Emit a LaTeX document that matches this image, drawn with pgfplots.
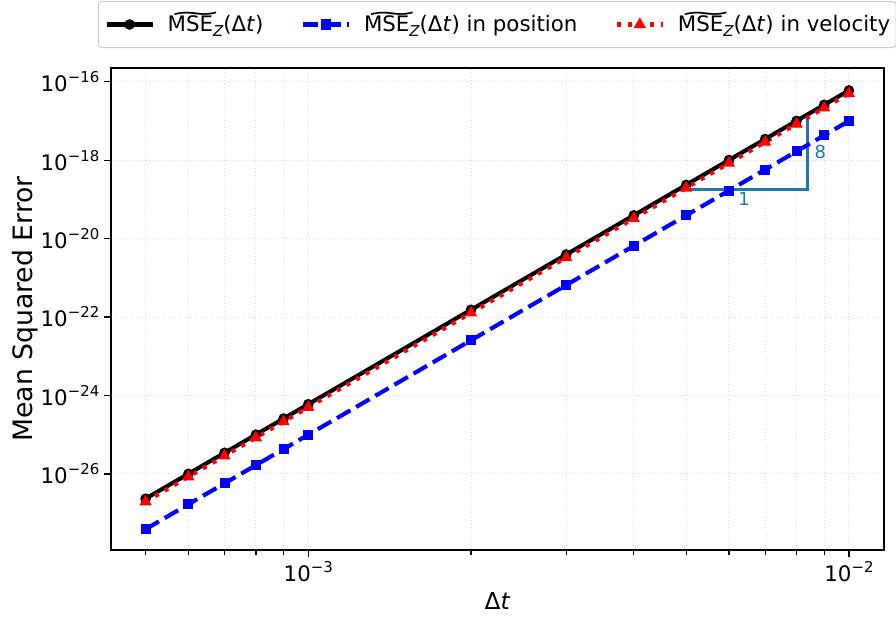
\documentclass[border=0pt]{standalone}
\usepackage{fontspec}
\setmainfont{DejaVu Sans}
\usepackage{graphicx}
\usepackage{pgfplots}
\pgfplotsset{compat=1.18}
\definecolor{tri}{HTML}{1F77B4}
\newcommand{\tp}[1]{10\raisebox{0.42em}{\fontsize{11.2}{12}\selectfont −#1}}
\newsavebox\wtbox
\newcommand{\wtilde}[1]{\sbox\wtbox{#1}\leavevmode\rlap{\smash{\raisebox{0.48em}{\resizebox{\wd\wtbox}{\height}{\textasciitilde}}}}\usebox\wtbox}
\newcommand{\msez}{\wtilde{MSE\raisebox{-0.25em}{\fontsize{11.2}{12}\selectfont\itshape Z}}(Δ\textit{t})}
\begin{document}
\begin{tikzpicture}
\useasboundingbox (-83.25pt,-51pt) rectangle (588.75pt,412.5pt);
\begin{axis}[
  at={(0,0)}, anchor=south west,
  scale only axis, width=579.75pt, height=361.5pt,
  xmode=log, ymode=log,
  xmin=4.315e-4, xmax=1.161e-2, ymin=1.15e-28, ymax=2.24e-16,
  xtick={0.001,0.01}, xticklabels={\tp{3},\tp{2}},
  minor xtick={0.0005,0.0006,0.0007,0.0008,0.0009,0.002,0.003,0.004,0.005,0.006,0.007,0.008,0.009},
  ytick={1e-26,1e-24,1e-22,1e-20,1e-18,1e-16},
  yticklabels={\tp{26},\tp{24},\tp{22},\tp{20},\tp{18},\tp{16}},
  yminorticks=false,
  xmajorgrids, xminorgrids, ymajorgrids,
  grid style={dotted, line width=0.75pt, color=black!15},
  minor grid style={dotted, line width=0.75pt, color=black!15},
  tick align=outside, xtick pos=left, ytick pos=left,
  major tick length=5.25pt, minor tick length=3.5pt,
  every tick/.style={black, line width=1pt},
  axis line style={line width=1.2pt},
  ticklabel style={font=\fontsize{16}{19}\selectfont},
  xlabel={Δ\textit{t}}, ylabel={Mean Squared Error},
  xlabel style={font=\fontsize{17.5}{20}\selectfont, at={(rel axis cs:0.5,-0.1224)}, anchor=base},
  ylabel style={font=\fontsize{20}{24}\selectfont, at={(rel axis cs:-0.11125,0.5)}, anchor=center},
  legend columns=3,
  legend cell align=left,
  legend style={at={(-0.0168,1)}, anchor=south west, yshift=15pt, draw=black!20, rounded corners=2.5pt, line width=0.75pt, fill=white,
    font=\fontsize{16}{19}\selectfont, inner xsep=4.5pt, inner ysep=8.25pt,
    nodes={inner sep=0pt, text height=14pt, text depth=4pt},
    /tikz/every odd column/.append style={column sep=9.75pt},
    /tikz/every even column/.append style={column sep=28pt}},
  legend image code/.code={\draw[mark repeat=2, mark phase=2, #1] plot coordinates {(0pt,0pt) (17.25pt,0pt) (34.5pt,0pt)};},
]
\addplot[tri, line width=2.2pt, no marks, forget plot] coordinates {(0.00488,1.8e-19) (0.00838,1.8e-19) (0.00838,1.35e-17)};
\addplot[black, line width=3.1pt, mark=*, mark size=3.6pt, mark options={solid, line width=0.75pt}] coordinates {
(0.0005,2.34e-27) (0.0006,1.008e-26) (0.0007,3.459e-26) (0.0008,1.007e-25) (0.0009,2.583e-25) (0.001,6.0e-25)
(0.002,1.536e-22) (0.003,3.937e-21) (0.004,3.932e-20) (0.005,2.344e-19) (0.006,1.008e-18) (0.007,3.459e-18)
(0.008,1.007e-17) (0.009,2.583e-17) (0.01,6.0e-17)};
\addlegendentry{\msez}
\addplot[blue, line width=3.1pt, dash pattern=on 11.6pt off 5pt, mark=square*, mark size=3.4pt, mark options={solid, line width=0.75pt}] coordinates {
(0.0005,3.906e-28) (0.0006,1.680e-27) (0.0007,5.765e-27) (0.0008,1.678e-26) (0.0009,4.305e-26) (0.001,1.0e-25)
(0.002,2.56e-23) (0.003,6.561e-22) (0.004,6.554e-21) (0.005,3.906e-20) (0.006,1.680e-19) (0.007,5.765e-19)
(0.008,1.678e-18) (0.009,4.305e-18) (0.01,1.0e-17)};
\addlegendentry{\msez{} in position}
\addplot[red, line width=3.1pt, dash pattern=on 3.1pt off 5.2pt, mark=triangle*, mark size=4.6pt, mark options={solid, line width=0.75pt}] coordinates {
(0.0005,1.953e-27) (0.0006,8.398e-27) (0.0007,2.882e-26) (0.0008,8.389e-26) (0.0009,2.152e-25) (0.001,5.0e-25)
(0.002,1.28e-22) (0.003,3.281e-21) (0.004,3.277e-20) (0.005,1.953e-19) (0.006,8.398e-19) (0.007,2.882e-18)
(0.008,8.389e-18) (0.009,2.152e-17) (0.01,5.0e-17)};
\addlegendentry{\msez{} in velocity}
\node[text=tri, font=\fontsize{13.5}{16}\selectfont] at (axis cs:0.0064,1.05e-19) {1};
\node[text=tri, font=\fontsize{13.5}{16}\selectfont] at (axis cs:0.00885,1.63e-18) {8};
\end{axis}
\end{tikzpicture}
\end{document}
